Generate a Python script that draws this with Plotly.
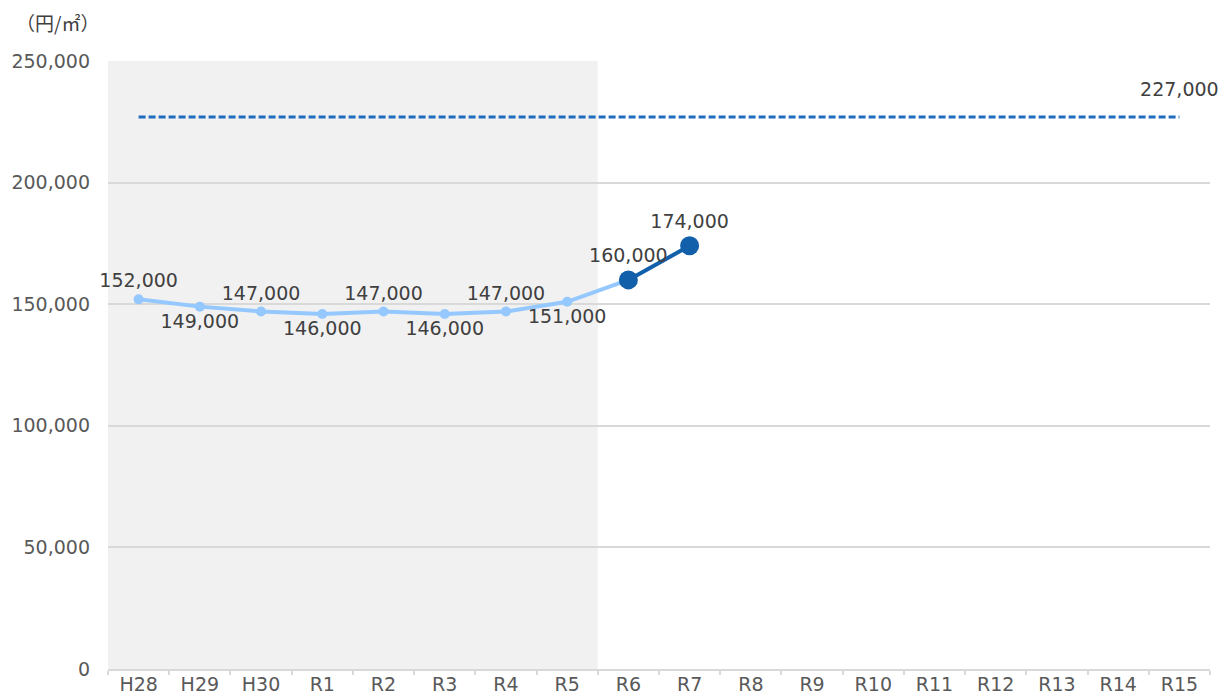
import plotly.graph_objects as go

categories = ["H28", "H29", "H30", "R1", "R2", "R3", "R4", "R5", "R6", "R7",
              "R8", "R9", "R10", "R11", "R12", "R13", "R14", "R15"]
past_values = [152000, 149000, 147000, 146000, 147000, 146000, 147000, 151000, 160000]
recent_cats = ["R6", "R7"]
recent_values = [160000, 174000]
target_value = 227000
past_positions = ["top center", "bottom center", "top center", "bottom center",
                  "top center", "bottom center", "top center", "bottom center", "top center"]

FONT = "DejaVu Sans"
GRAY = "#595959"
TXT = "#404040"
FS = 19
PAGE_OFFSET = 8  # default body margin of the html page

fig = go.Figure()

fig.add_shape(type="rect", xref="x", yref="y", x0=-0.5, x1=7.5, y0=0, y1=250000,
              fillcolor="#f1f1f1", line_width=0, layer="below")

n = len(categories)
fig.add_trace(go.Scatter(
    x=categories, y=[target_value] * n, mode="lines+markers+text",
    line=dict(color="#1f6cbd", width=3, dash="7px,3px"),
    marker=dict(size=[0] * (n - 1) + [24], color="rgba(0,0,0,0)", line=dict(width=0)),
    text=[""] * (n - 1) + [f"{target_value:,}"],
    textposition="top center", textfont=dict(size=FS, color=TXT, family=FONT),
    cliponaxis=False, hoverinfo="skip"))

past_text = [f"{v:,}" for v in past_values[:-1]] + [""]
fig.add_trace(go.Scatter(
    x=categories[:len(past_values)], y=past_values, mode="lines+markers+text",
    line=dict(color="#94c8ff", width=4),
    marker=dict(size=10, color="#94c8ff"),
    text=past_text, textposition=past_positions,
    textfont=dict(size=FS, color=TXT, family=FONT), cliponaxis=False))

fig.add_trace(go.Scatter(
    x=recent_cats, y=recent_values, mode="lines+markers+text",
    line=dict(color="#1360aa", width=4),
    marker=dict(size=19, color="#1360aa"),
    text=[f"{v:,}" for v in recent_values], textposition="top center",
    textfont=dict(size=FS, color=TXT, family=FONT), cliponaxis=False))

fig.add_annotation(text="（円/㎡）", xref="paper", yref="paper", x=-0.046, y=1.0,
                   yshift=39, xanchor="center", yanchor="middle", showarrow=False,
                   font=dict(size=19, color=TXT, family="Noto Sans CJK JP"))

fig.update_layout(
    width=1227 - PAGE_OFFSET, height=695 - PAGE_OFFSET,
    margin=dict(l=108 - PAGE_OFFSET, r=17, t=61 - PAGE_OFFSET, b=26, autoexpand=False),
    plot_bgcolor="white", paper_bgcolor="white",
    showlegend=False,
    font=dict(family=FONT, size=FS, color=GRAY),
)
fig.update_xaxes(
    type="category", categoryorder="array", categoryarray=categories,
    range=[-0.5, n - 0.5], automargin=False,
    showgrid=False, showline=True, linecolor="#d9d9d9", linewidth=2,
    ticks="outside", tickson="boundaries", ticklen=4, tickcolor="#d9d9d9", tickwidth=2,
    ticklabelstandoff=-3,
    tickfont=dict(size=FS, color=GRAY, family=FONT))
fig.update_yaxes(
    range=[0, 250000], dtick=50000, tickformat=",", automargin=False,
    showgrid=True, gridcolor="#d9d9d9", gridwidth=2, zeroline=False,
    ticks="", ticklabelstandoff=17,
    tickfont=dict(size=FS, color=GRAY, family=FONT))

fig.write_html("out.html")
